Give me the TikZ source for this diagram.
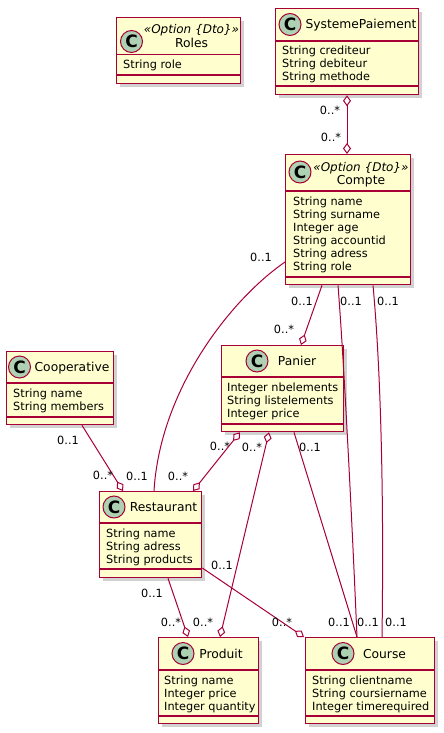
\documentclass[tikz,border=0pt]{standalone}
\usepackage{fontspec}
\setmainfont{DejaVu Sans}
\usetikzlibrary{arrows.meta,shadows}
\definecolor{umlfill}{HTML}{FEFECE}
\definecolor{umlborder}{HTML}{A80036}
\definecolor{badgefill}{HTML}{ADD1B2}
\tikzset{
  classbox/.style={draw=umlborder, fill=umlfill, line width=1.3pt, anchor=north west, inner sep=0pt,
    drop shadow={shadow xshift=3.5pt, shadow yshift=-3.5pt, fill=black, opacity=0.18}},
  sepline/.style={draw=umlborder, line width=1.3pt},
  badge/.style={circle, draw=umlborder, fill=badgefill, line width=1pt, minimum size=22pt, inner sep=0pt,
    font=\fontsize{17}{17}\selectfont\bfseries},
  cname/.style={anchor=base, inner sep=0pt, font=\fontsize{12.3}{14}\selectfont},
  stereo/.style={anchor=base, inner sep=0pt, font=\fontsize{12}{14}\selectfont\itshape},
  attr/.style={anchor=base west, inner sep=0pt, font=\fontsize{11.3}{13}\selectfont},
  mult/.style={inner sep=0pt, font=\fontsize{11.3}{13}\selectfont},
  assoc/.style={draw=umlborder, line width=1pt},
  agg/.style={assoc, -{Diamond[length=11pt, width=8pt, fill=white]}},
  aggtwo/.style={assoc, {Diamond[length=11pt, width=8pt, fill=white]}-{Diamond[length=11pt, width=8pt, fill=white]}}
}
% box: name, x, y, width, height, header sep, attribute sep
\newcommand{\umlbox}[7]{%
  \node[classbox, minimum width=#4, minimum height=#5] (#1) at (#2,#3) {};
  \draw[sepline] ([yshift=-#6]#1.north west) -- ([yshift=-#6]#1.north east);
  \draw[sepline] ([yshift=-#7]#1.north west) -- ([yshift=-#7]#1.north east);
}
% attributes: name, x, first baseline, list
\newcommand{\umlattrs}[4]{%
  \foreach \a [count=\i] in {#4} {\node[attr] (#1-a\i) at (#2,{#3+13*(\i-1)}) {\a};}
}

\begin{document}
\begin{tikzpicture}[x=1pt, y=-1pt]
  \useasboundingbox (0,0) rectangle (444,733);

  % classes
  \umlbox{roles}{116}{17}{124}{66}{37.5}{58}
  \node[badge] (roles-c) at (131.5,41.5) {C};
  \node[stereo] (roles-s) at (191.5,34) {«Option \{Dto\}»};
  \node[cname] (roles-n) at (191.5,47.5) {Roles};
  \umlattrs{roles}{123}{69}{String role}

  \umlbox{sp}{275}{8}{143}{86}{33}{78}
  \node[badge] (sp-c) at (290,24.5) {C};
  \node[cname] (sp-n) at (361,29) {SystemePaiement};
  \umlattrs{sp}{282}{55}{String crediteur, String debiteur, String methode}

  \umlbox{compte}{285}{154}{125}{130}{37}{123}
  \node[badge] (compte-c) at (300,172) {C};
  \node[stereo] (compte-s) at (361,171) {«Option \{Dto\}»};
  \node[cname] (compte-n) at (361,184) {Compte};
  \umlattrs{compte}{293}{205}{String name, String surname, Integer age, String accountid, String adress, String role}

  \umlbox{coop}{6}{351}{107}{73}{32}{66}
  \node[badge] (coop-c) at (19.5,367) {C};
  \node[cname] (coop-n) at (72,371.5) {Cooperative};
  \umlattrs{coop}{13}{397}{String name, String members}

  \umlbox{panier}{221}{345}{122}{86}{32}{79}
  \node[badge] (panier-c) at (257,361) {C};
  \node[cname] (panier-n) at (297,365.5) {Panier};
  \umlattrs{panier}{227}{391}{Integer nbelements, String listelements, Integer price}

  \umlbox{resto}{99}{491}{102}{86}{32}{78}
  \node[badge] (resto-c) at (114,507) {C};
  \node[cname] (resto-n) at (163.5,511.5) {Restaurant};
  \umlattrs{resto}{106}{537}{String name, String adress, String products}

  \umlbox{produit}{158}{637}{100}{86}{33}{79}
  \node[badge] (produit-c) at (183,653.5) {C};
  \node[cname] (produit-n) at (221,658) {Produit};
  \umlattrs{produit}{164}{684}{String name, Integer price, Integer quantity}

  \umlbox{course}{305}{637}{129}{86}{33}{79}
  \node[badge] (course-c) at (343,653.5) {C};
  \node[cname] (course-n) at (384.5,658) {Course};
  \umlattrs{course}{312}{684}{String clientname, String coursiername, Integer timerequired}

  % links
  \draw[aggtwo] ([xshift=72pt]sp.south west) -- ([xshift=62pt]compte.north west);
  \draw[assoc] ([yshift=-108pt]compte.north west) .. controls +(-55,38) and +(6,-101) .. ([xshift=55pt]resto.north west);
  \draw[agg] ([xshift=37pt]compte.south west) -- ([xshift=80pt]panier.north west);
  \draw[assoc] ([xshift=53pt]compte.south west) .. controls +(6,76) and +(-5,-117) .. ([xshift=52pt]course.north west);
  \draw[assoc] ([xshift=88pt]compte.south west) .. controls +(8,86) and +(2,-137) .. ([xshift=77pt]course.north west);
  \draw[assoc] ([xshift=73pt]panier.south west) -- ([xshift=52pt]course.north west);
  \draw[aggtwo] ([xshift=19pt]panier.south west) -- ([xshift=94pt]resto.north west);
  \draw[aggtwo] ([xshift=48pt]panier.south west) -- ([xshift=62pt]produit.north west);
  \draw[agg] ([xshift=76pt]coop.south west) -- ([xshift=24pt]resto.north west);
  \draw[agg] ([xshift=69pt]resto.south west) -- ([xshift=30pt]produit.north west);
  \draw[agg] ([yshift=-77pt]resto.north east) -- ([xshift=-1pt]course.north west);

  % multiplicities
  \node[mult] (m-sp1) at (330,110) {0..*};
  \node[mult] (m-sp2) at (331,137) {0..*};
  \node[mult] (m-cr1) at (261,257) {0..1};
  \node[mult] (m-cr2) at (137,476) {0..1};
  \node[mult] (m-cp1) at (302,301) {0..1};
  \node[mult] (m-cp2) at (284,329) {0..*};
  \node[mult] (m-cc1) at (351,301) {0..1};
  \node[mult] (m-cc2) at (368,622) {0..1};
  \node[mult] (m-cd1) at (388,301) {0..1};
  \node[mult] (m-cd2) at (396,622) {0..1};
  \node[mult] (m-pc1) at (310,447) {0..1};
  \node[mult] (m-pc2) at (339,622) {0..1};
  \node[mult] (m-pr1) at (220,446) {0..*};
  \node[mult] (m-pr2) at (178,476) {0..*};
  \node[mult] (m-pp1) at (252,447) {0..*};
  \node[mult] (m-pp2) at (203,622) {0..*};
  \node[mult] (m-or1) at (68,440) {0..1};
  \node[mult] (m-or2) at (103,475) {0..*};
  \node[mult] (m-rp1) at (152,593) {0..1};
  \node[mult] (m-rp2) at (171,622) {0..*};
  \node[mult] (m-rc1) at (222,565) {0..1};
  \node[mult] (m-rc2) at (282,622) {0..*};
\end{tikzpicture}
\end{document}
